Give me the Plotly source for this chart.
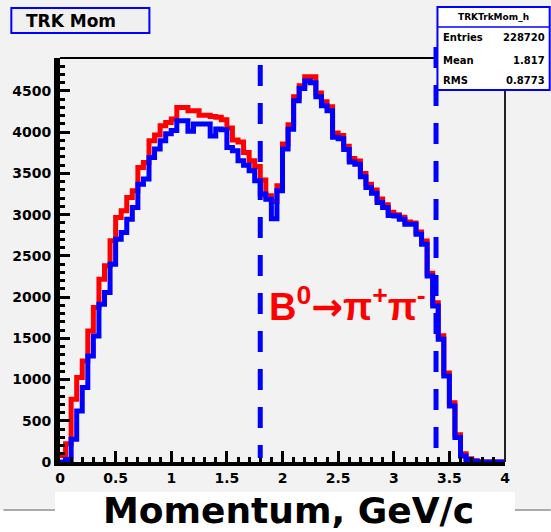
import plotly.graph_objects as go

# ---------------- data ----------------
bin_width = 0.05
bin_low = [round(i * bin_width, 2) for i in range(80)]

red_counts = [80, 220, 761, 1024, 1226, 1590, 1874, 2217, 2379, 2683,
              2966, 3046, 3209, 3289, 3573, 3633, 3896, 3965, 4078, 4119,
              4160, 4300, 4300, 4260, 4260, 4207, 4207, 4190, 4180, 4150,
              4050, 3904, 3880, 3755, 3653, 3585, 3420, 3228, 3160, 3350,
              3856, 4090, 4430, 4563, 4673, 4673, 4474, 4369, 4308, 3990,
              3960, 3830, 3680, 3650, 3500, 3370, 3300, 3190, 3120, 3030,
              3000, 2970, 2910, 2900, 2790, 2680, 2290, 1930, 1530, 1080,
              720, 330, 100, 40, 15, 0, 0, 0, 0, 0]

blue_counts = [0, 30, 275, 619, 903, 1287, 1529, 1914, 2055, 2399,
               2703, 2784, 2945, 3087, 3370, 3431, 3694, 3795, 3896, 3980,
               4020, 4138, 4138, 4013, 4098, 4098, 4098, 3953, 4040, 4030,
               3815, 3775, 3653, 3600, 3532, 3410, 3249, 3188, 2950, 3290,
               3795, 4037, 4380, 4530, 4620, 4600, 4430, 4320, 4260, 3940,
               3920, 3790, 3640, 3610, 3460, 3330, 3260, 3148, 3087, 2990,
               2985, 2945, 2885, 2885, 2763, 2640, 2257, 1893, 1489, 1044,
               680, 296, 73, 30, 10, 0, 0, 0, 0, 0]

cut_lines = [1.8, 3.38]
x_ticks = [0, 0.5, 1, 1.5, 2, 2.5, 3, 3.5, 4]
x_tick_text = ["0", "0.5", "1", "1.5", "2", "2.5", "3", "3.5", "4"]
y_ticks = [0, 500, 1000, 1500, 2000, 2500, 3000, 3500, 4000, 4500]

stats_name = "TRKTrkMom_h"
stats_rows = [("Entries", "228720"), ("Mean", "1.817"), ("RMS", "0.8773")]

# ---------------- geometry helpers ----------------
W, H = 551, 532
L, R, T, B = 57, 46, 58, 70
PW, PH = W - L - R, H - T - B


def px(x):
    return (x - L) / PW


def py(y):
    return (H - B - y) / PH


def steps(vals):
    xs = list(bin_low) + [round(bin_low[-1] + bin_width, 2)]
    ys = list(vals) + [vals[-1]]
    return xs, ys


fig = go.Figure()
rx, ry = steps(red_counts)
bx, by = steps(blue_counts)
fig.add_trace(go.Scatter(x=rx, y=ry, mode="lines", line_shape="hv",
                         line=dict(color="#ff0000", width=5), showlegend=False,
                         hoverinfo="skip"))
fig.add_trace(go.Scatter(x=bx, y=by, mode="lines", line_shape="hv",
                         line=dict(color="#0000ff", width=5), showlegend=False,
                         hoverinfo="skip"))

shapes = []
# bottom white strip of the canvas with pad border
shapes.append(dict(type="rect", xref="paper", yref="paper", x0=px(-5), x1=px(W + 5),
                   y0=py(H + 5), y1=py(510), fillcolor="white", line_width=0, layer="below"))
shapes.append(dict(type="line", xref="paper", yref="paper", x0=px(0), x1=px(W),
                   y0=py(510), y1=py(510), line=dict(color="#aaaaaa", width=2)))
shapes.append(dict(type="rect", xref="paper", yref="paper", x0=px(52), x1=px(515),
                   y0=py(H + 5), y1=py(492), fillcolor="white", line_width=0))
# frame top and right
shapes.append(dict(type="line", xref="paper", yref="paper", x0=0, x1=1, y0=1, y1=1,
                   line=dict(color="black", width=2)))
shapes.append(dict(type="line", xref="paper", yref="paper", x0=1, x1=1, y0=0, y1=1,
                   line=dict(color="#222222", width=2)))
# dashed cut lines
tops = [65, 47]
bottoms = [458, 450]
for xc, tp, bt in zip(cut_lines, tops, bottoms):
    shapes.append(dict(type="line", xref="x", yref="paper", x0=xc, x1=xc,
                       y0=py(tp), y1=py(bt),
                       line=dict(color="#0000ff", width=5, dash="21px,17px")))
# title box
shapes.append(dict(type="rect", xref="paper", yref="paper", x0=px(8), x1=px(147),
                   y0=py(33), y1=py(8), fillcolor="#f0f0f0",
                   line=dict(color="#0000ff", width=2)))
# stats box
shapes.append(dict(type="rect", xref="paper", yref="paper", x0=px(437), x1=px(550),
                   y0=py(90), y1=py(7), fillcolor="white",
                   line=dict(color="#0000ff", width=2)))
shapes.append(dict(type="line", xref="paper", yref="paper", x0=px(437), x1=px(550),
                   y0=py(27), y1=py(27), line=dict(color="#0000ff", width=1.5)))

ann = []
ann.append(dict(text="<b>TRK Mom</b>", xref="paper", yref="paper", x=px(21), y=py(20.5),
                xanchor="left", yanchor="middle", showarrow=False,
                font=dict(family="DejaVu Sans", size=17, color="black")))
ann.append(dict(text="<b>" + stats_name + "</b>", xref="paper", yref="paper",
                x=px(493.5), y=py(17), xanchor="center", yanchor="middle", showarrow=False,
                font=dict(family="DejaVu Sans", size=9, color="black")))
row_y = [38, 60, 80]
for (lab, val), ry_ in zip(stats_rows, row_y):
    ann.append(dict(text="<b>" + lab + "</b>", xref="paper", yref="paper", x=px(441), y=py(ry_),
                    xanchor="left", yanchor="middle", showarrow=False,
                    font=dict(family="DejaVu Sans", size=10, color="black")))
    ann.append(dict(text="<b>" + val + "</b>", xref="paper", yref="paper", x=px(547), y=py(ry_),
                    xanchor="right", yanchor="middle", showarrow=False,
                    font=dict(family="DejaVu Sans", size=10, color="black")))
ann.append(dict(text="<b>Momentum, GeV/c</b>", xref="paper", yref="paper", x=px(287), y=py(510),
                xanchor="center", yanchor="middle", showarrow=False,
                font=dict(family="DejaVu Sans", size=36, color="black")))
ann.append(dict(text="<b>B<sup>0</sup><span style='font-family:DejaVu Sans'>→</span>π<sup>+</sup>π<sup>-</sup></b>",
                xref="paper", yref="paper",
                x=px(346), y=py(304), xanchor="center", yanchor="middle", showarrow=False,
                font=dict(family="Liberation Sans", size=38, color="#ff0000")))

fig.update_layout(
    width=W, height=H,
    margin=dict(l=L, r=R, t=T, b=B, pad=0),
    paper_bgcolor="#f2f2f2", plot_bgcolor="#f2f2f2",
    shapes=shapes, annotations=ann, showlegend=False,
    xaxis=dict(range=[0, 4], tickvals=x_ticks, ticktext=x_tick_text,
               showgrid=False, zeroline=False, showline=True, linecolor="black", linewidth=4,
               ticks="inside", ticklen=11, tickwidth=3, tickcolor="black",
               minor=dict(ticks="inside", ticklen=5, tickwidth=3, tickcolor="black", dtick=0.1,
                          tick0=0, showgrid=False),
               tickfont=dict(family="DejaVu Sans", size=14, color="black", weight="bold")),
    yaxis=dict(range=[0, 4900], tickvals=y_ticks,
               showgrid=False, zeroline=False, showline=True, linecolor="black", linewidth=6,
               ticks="inside", ticklen=10, tickwidth=3, tickcolor="black",
               minor=dict(ticks="inside", ticklen=5, tickwidth=3, tickcolor="black", dtick=100,
                          tick0=0, showgrid=False),
               tickfont=dict(family="DejaVu Sans", size=14, color="black", weight="bold")),
)

fig.write_html("out.html", config={"displayModeBar": False},
               post_script="document.body.style.margin='0';document.body.style.padding='0';")
